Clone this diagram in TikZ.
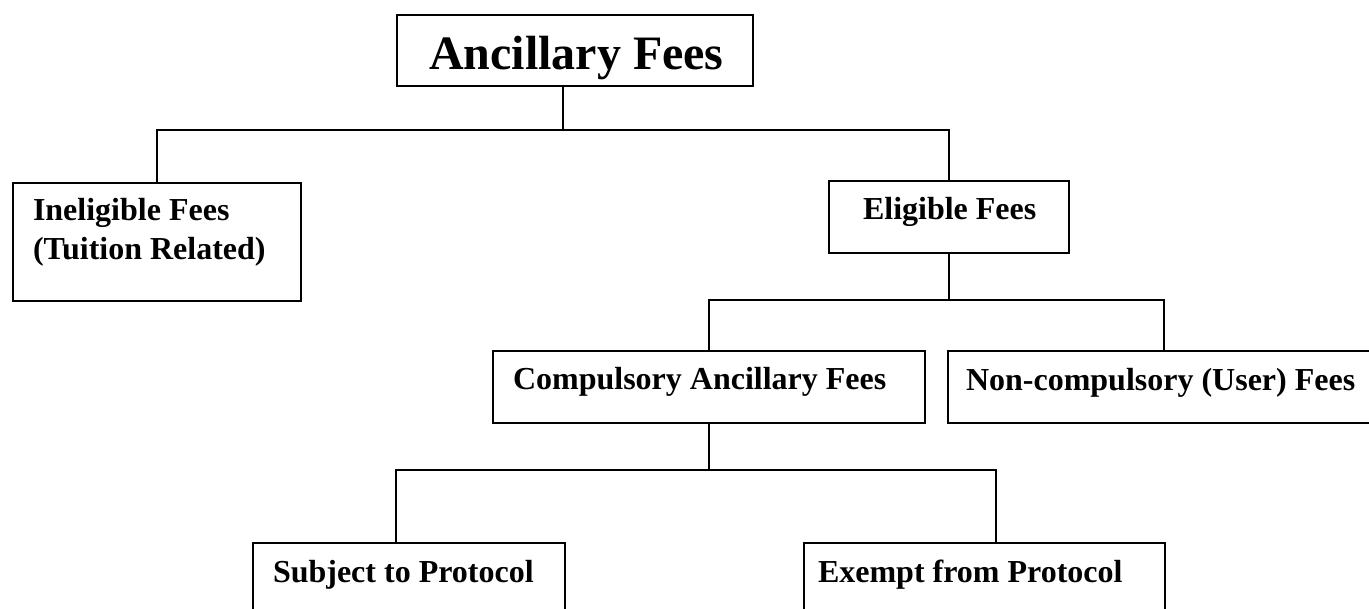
\documentclass[tikz,border=0pt]{standalone}
\usepackage{fontspec}
\setmainfont{Liberation Serif}
\begin{document}
\begin{tikzpicture}[x=0.5bp,y=-0.5bp,line width=1bp,
  box/.style={draw,line width=1bp,inner sep=0pt,anchor=north west},
  lbl/.style={inner sep=0pt,anchor=base west,font=\fontsize{16bp}{19.5bp}\selectfont\bfseries},
  ttl/.style={inner sep=0pt,anchor=base west,font=\fontsize{24bp}{28bp}\selectfont\bfseries},
  link/.style={draw,line width=1bp}]
\useasboundingbox (0,0) rectangle (1369,609);
% boxes
\node[box,minimum width=178bp,minimum height=35.5bp] (title) at (396,14) {};
\node[box,minimum width=144bp,minimum height=59bp] (inel) at (12,182) {};
\node[box,minimum width=120bp,minimum height=36bp] (elig) at (828,180) {};
\node[box,minimum width=216bp,minimum height=36bp] (comp) at (492,350) {};
\node[box,minimum width=216bp,minimum height=36bp] (noncomp) at (947,350) {};
\node[box,minimum width=156bp,minimum height=44bp] (subj) at (252,542) {};
\node[box,minimum width=180.5bp,minimum height=44bp] (exem) at (803,542) {};
% texts
\node[ttl] (ttitle) at (428,70) {Ancillary Fees};
\node[lbl] (tinel1) at (32,221) {Ineligible Fees};
\node[lbl] (tinel2) at (32,260) {(Tuition Related)};
\node[lbl] (telig) at (862,220) {Eligible Fees};
\node[lbl] (tcomp) at (512,389) {Compulsory Ancillary Fees};
\node[lbl] (tnoncomp) at (965,390) {Non-compulsory (User) Fees};
\node[lbl] (tsubj) at (272,582) {Subject to Protocol};
\node[lbl] (texem) at (817,582) {Exempt from Protocol};
% connectors
\coordinate (j1) at (563,130);
\draw[link] (title.south -| j1) -- (j1);
\draw[link] (inel.north) |- (j1) -| (elig.north);
\coordinate (j2) at (0,300);
\draw[link] (elig.south) -- (elig.south |- j2);
\draw[link] (comp.north) |- (noncomp.north |- j2) -- (noncomp.north);
\coordinate (j3) at (0,470);
\draw[link] (comp.south) -- (comp.south |- j3);
\coordinate (s1) at (396,470);
\coordinate (e1) at (996,470);
\draw[link] (subj.north -| s1) -- (s1) -- (e1) -- (exem.north -| e1);
\end{tikzpicture}
\end{document}
